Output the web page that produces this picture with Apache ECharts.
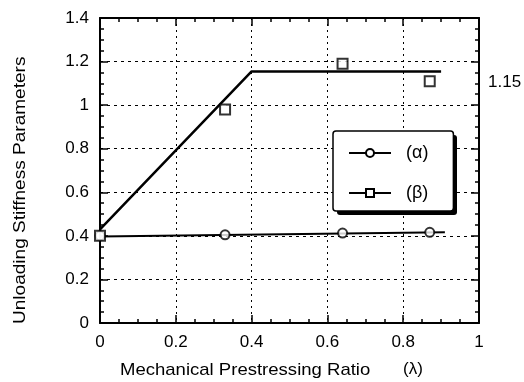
<!DOCTYPE html>
<html>
<head>
<meta charset="utf-8">
<script src="https://cdn.jsdelivr.net/npm/echarts@6/dist/echarts.min.js"></script>
<style>
  html, body { margin: 0; padding: 0; background: #fff; }
  #chart { width: 524px; height: 382px; }
</style>
</head>
<body>
<div id="chart"></div>
<script>
// Measured unloading stiffness parameters vs. mechanical prestressing ratio
const lambda = [0, 0.33, 0.64, 0.87];
const alphaMeasured = [0.40, 0.405, 0.413, 0.416];
const betaMeasured = [0.40, 0.98, 1.19, 1.11];

// Fitted relations
const alphaFitX = [0, 0.91];
const alphaFitY = [0.397, 0.416];
const betaFitX = [0, 0.4, 0.9];
const betaFitY = [0.43, 1.155, 1.155];

const xTicks = [0, 0.2, 0.4, 0.6, 0.8, 1];
const yTicks = [0, 0.2, 0.4, 0.6, 0.8, 1, 1.2, 1.4];
const plateauLabel = '1.15';

const FONT = '"Liberation Sans", Arial, Helvetica, sans-serif';

function pairs(xs, ys) {
  return xs.map((x, i) => ({ value: [x, ys[i]], symbol: 'none' }));
}
function points(xs, ys) {
  return xs.map((x, i) => [x, ys[i]]);
}

const fmt = v => String(Number(v.toFixed(2)));

const baseX = {
  type: 'value', min: xTicks[0], max: xTicks[xTicks.length - 1], interval: 0.2,
  axisLine: { show: true, onZero: false, lineStyle: { color: '#000', width: 2 } },
  axisTick: { show: true, inside: true, length: 8, lineStyle: { color: '#000', width: 1.5 } },
  minorTick: { show: true, splitNumber: 4, length: 4, lineStyle: { color: '#000', width: 1.5 } },
  splitLine: { show: false }
};
const baseY = {
  type: 'value', min: yTicks[0], max: yTicks[yTicks.length - 1], interval: 0.2,
  axisLine: { show: true, onZero: false, lineStyle: { color: '#000', width: 2 } },
  axisTick: { show: true, inside: true, length: 8, lineStyle: { color: '#000', width: 1.5 } },
  minorTick: { show: true, splitNumber: 4, length: 4, lineStyle: { color: '#000', width: 1.5 } },
  splitLine: { show: false }
};

const chart = echarts.init(document.getElementById('chart'), null, { renderer: 'canvas' });
chart.setOption({
  animation: false,
  backgroundColor: '#fff',
  grid: { left: 100, right: 45, top: 18, bottom: 59, containLabel: false },
  xAxis: [
    Object.assign({}, baseX, {
      position: 'bottom',
      axisLabel: { color: '#000', fontFamily: FONT, fontSize: 17, margin: 11, formatter: fmt },
      splitLine: { show: true, lineStyle: { color: '#000', width: 1, type: [2, 4] } }
    }),
    Object.assign({}, baseX, { position: 'top', axisLabel: { show: false } })
  ],
  yAxis: [
    Object.assign({}, baseY, {
      position: 'left',
      axisLabel: { color: '#000', fontFamily: FONT, fontSize: 17, margin: 11, formatter: fmt },
      splitLine: { show: true, lineStyle: { color: '#000', width: 1, type: [3, 4] } }
    }),
    Object.assign({}, baseY, { position: 'right', axisLabel: { show: false } })
  ],
  legend: {
    data: ['(α)', '(β)'],
    orient: 'vertical',
    left: 333, top: 131,
    padding: [13, 25, 9, 15],
    itemWidth: 42, itemHeight: 10, itemGap: 22,
    itemStyle: { color: '#000' },
    textStyle: { color: '#000', fontFamily: FONT, fontSize: 18, padding: [0, 0, 0, 10] },
    backgroundColor: '#fff',
    borderColor: '#000', borderWidth: 1.5, borderRadius: 3,
    z: 6
  },
  series: [
    {
      name: '(α)', type: 'line', symbol: 'emptyCircle', symbolSize: 9,
      data: pairs(alphaFitX, alphaFitY),
      lineStyle: { color: '#000', width: 2 }, itemStyle: { color: '#000' }, z: 3
    },
    {
      name: '(β)', type: 'line', symbol: 'emptyRect', symbolSize: 9,
      data: pairs(betaFitX, betaFitY),
      lineStyle: { color: '#000', width: 2.5 }, itemStyle: { color: '#000' }, z: 3
    },
    {
      name: 'α measured', type: 'scatter', symbol: 'emptyCircle', symbolSize: 9,
      data: points(lambda, alphaMeasured),
      itemStyle: { color: '#000', borderWidth: 1.5 }, z: 4
    },
    {
      name: 'β measured', type: 'scatter', symbol: 'emptyRect', symbolSize: 10,
      data: points(lambda, betaMeasured),
      itemStyle: { color: '#000', borderWidth: 1.5 }, z: 5
    }
  ],
  graphic: [
    {
      // drop shadow behind the legend box
      type: 'rect', left: 337, top: 135, z: 5,
      shape: { width: 120, height: 80, r: 3 },
      style: { fill: '#000' }
    },
    {
      type: 'text', left: 488, top: 74,
      style: { text: plateauLabel, fill: '#000', font: '17px ' + FONT }
    },
    {
      type: 'text', x: 120, y: 362, scaleX: 1.09,
      style: { text: 'Mechanical Prestressing Ratio', fill: '#000', font: '17px ' + FONT }
    },
    {
      type: 'text', left: 403, top: 361,
      style: { text: '(λ)', fill: '#000', font: '17px ' + FONT }
    },
    {
      type: 'text', rotation: Math.PI / 2, x: 20, y: 324, scaleX: 1.12,
      style: { text: 'Unloading Stiffness Parameters', fill: '#000', font: '17px ' + FONT,
               align: 'left', verticalAlign: 'middle' }
    }
  ]
});
</script>
</body>
</html>
